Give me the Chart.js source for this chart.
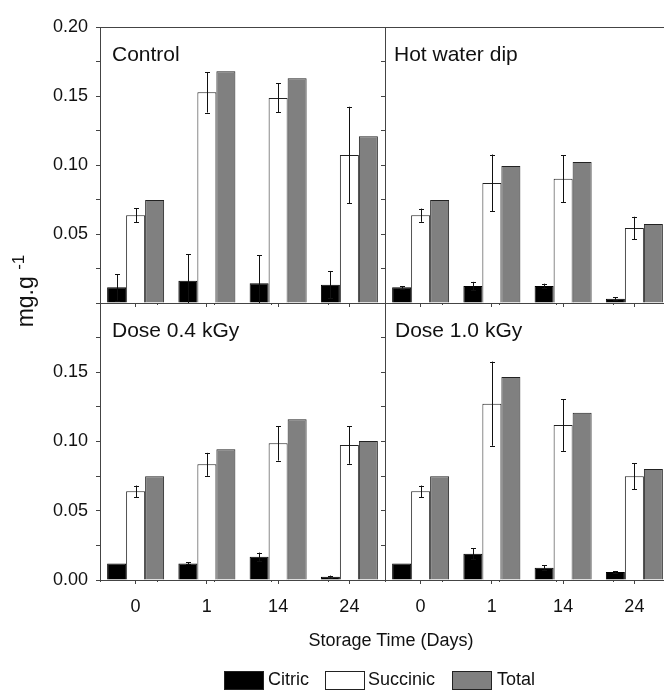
<!DOCTYPE html>
<html>
<head>
<meta charset="utf-8">
<script src="https://cdn.jsdelivr.net/npm/chart.js@4"></script>
<style>
html,body{margin:0;padding:0;background:#fff;}
#wrap{position:relative;width:664px;height:690px;overflow:hidden;background:#fff;font-family:"Liberation Sans",Arial,sans-serif;color:#111;}
#wrap canvas{position:absolute;left:0;top:0;}
.panel{position:absolute;white-space:nowrap;font-size:21px;line-height:21px;}
.txt{position:absolute;white-space:nowrap;font-size:18px;line-height:18px;}
.box{position:absolute;width:38px;height:17px;border:1px solid #222;}
#ytitle{position:absolute;left:-75px;top:276px;width:200px;height:30px;line-height:30px;font-size:23px;text-align:center;transform:rotate(-90deg);white-space:nowrap;}
</style>
</head>
<body>
<div id="wrap">
  <canvas id="c0" width="670" height="690" style="width:670px;height:690px"></canvas>
  <canvas id="c1" width="670" height="690" style="width:670px;height:690px"></canvas>
  <canvas id="c2" width="670" height="690" style="width:670px;height:690px"></canvas>
  <canvas id="c3" width="670" height="690" style="width:670px;height:690px"></canvas>
  <div class="panel" id="p0" style="left:112px;top:43px"></div>
  <div class="panel" id="p1" style="left:394px;top:43px"></div>
  <div class="panel" id="p2" style="left:112px;top:319px"></div>
  <div class="panel" id="p3" style="left:395px;top:319px"></div>
  <div id="ytitle">mg.g <span style="font-size:17px;position:relative;top:-9px">-1</span></div>
  <div class="txt" id="xtitle" style="left:291px;width:200px;text-align:center;top:631px"></div>
  <div class="box" style="left:224px;top:671px;background:#000"></div>
  <div class="txt" id="l0" style="left:268px;top:670px"></div>
  <div class="box" style="left:325px;top:671px;background:#fff"></div>
  <div class="txt" id="l1" style="left:368px;top:670px"></div>
  <div class="box" style="left:452px;top:671px;background:#808080"></div>
  <div class="txt" id="l2" style="left:497px;top:670px"></div>
</div>
<script>
// ---- data ----
const categories = ['0', '1', '14', '24'];
const seriesNames = ['Citric', 'Succinic', 'Total'];
const panelTitles = ['Control', 'Hot water dip', 'Dose 0.4 kGy', 'Dose 1.0 kGy'];
const xAxisTitle = 'Storage Time (Days)';

const controlCitric      = [0.0114, 0.0162, 0.0143, 0.0133];
const controlCitricErr   = [0.0096, 0.0193, 0.0203, 0.0099];
const controlSuccinic    = [0.0636, 0.1527, 0.1486, 0.1072];
const controlSuccinicErr = [0.0050, 0.0147, 0.0105, 0.0350];
const controlTotal       = [0.0746, 0.1680, 0.1628, 0.1208];

const hotCitric      = [0.0114, 0.0123, 0.0123, 0.0031];
const hotCitricErr   = [0.0009, 0.0030, 0.0017, 0.0010];
const hotSuccinic    = [0.0636, 0.0870, 0.0901, 0.0543];
const hotSuccinicErr = [0.0048, 0.0206, 0.0170, 0.0082];
const hotTotal       = [0.0746, 0.0993, 0.1022, 0.0572];

const dose04Citric      = [0.0120, 0.0120, 0.0168, 0.0024];
const dose04CitricErr   = [0, 0.0007, 0.0030, 0.0008];
const dose04Succinic    = [0.0640, 0.0835, 0.0987, 0.0975];
const dose04SuccinicErr = [0.0042, 0.0083, 0.0125, 0.0136];
const dose04Total       = [0.0749, 0.0944, 0.1160, 0.1004];

const dose10Citric      = [0.0120, 0.0190, 0.0089, 0.0058];
const dose10CitricErr   = [0, 0.0040, 0.0017, 0.0007];
const dose10Succinic    = [0.0640, 0.1273, 0.1119, 0.0749];
const dose10SuccinicErr = [0.0042, 0.0304, 0.0187, 0.0094];
const dose10Total       = [0.0749, 0.1466, 0.1208, 0.0801];

const yMin = 0, yMax = 0.2, yStep = 0.025;

// ---- text ----
panelTitles.forEach((t, i) => document.getElementById('p' + i).textContent = t);
seriesNames.forEach((t, i) => document.getElementById('l' + i).textContent = t);
document.getElementById('xtitle').textContent = xAxisTitle;

// ---- charts ----
const FONT = '"Liberation Sans", Arial, sans-serif';
const AXIS = '#444';
const CW = 670, CH = 690;
const colEdges = [[100, 385], [385, 670]];
const rowEdges = [[27, 303], [303, 580]];

const errorBars = {
  id: 'errorBars',
  afterDatasetsDraw(chart, args, opts) {
    const ctx = chart.ctx, ys = chart.scales.y;
    (opts.errors || []).forEach((errs, di) => {
      if (!errs) return;
      const ds = chart.data.datasets[di];
      const meta = chart.getDatasetMeta(di);
      meta.data.forEach((bar, i) => {
        const e = errs[i];
        if (!e) return;
        const v = ds.data[i];
        const hi = ys.getPixelForValue(v + e);
        const lo = ys.getPixelForValue(Math.max(0, v - e));
        const x = Math.round(bar.x) + 0.5;
        ctx.save();
        ctx.strokeStyle = '#111';
        ctx.lineWidth = 1;
        ctx.beginPath();
        ctx.moveTo(x, hi); ctx.lineTo(x, lo);
        ctx.moveTo(x - 2.5, Math.round(hi) + 0.5); ctx.lineTo(x + 2.5, Math.round(hi) + 0.5);
        if (v - e > 0) { ctx.moveTo(x - 2.5, Math.round(lo) + 0.5); ctx.lineTo(x + 2.5, Math.round(lo) + 0.5); }
        ctx.stroke();
        ctx.restore();
      });
    });
  }
};

function makePanel(id, row, col, citric, citricErr, succinic, succinicErr, total) {
  const yW = col === 0 ? 100 : 20;
  const xH = row === 0 ? 20 : 40;
  const padding = {
    left: colEdges[col][0] - yW,
    right: CW - colEdges[col][1],
    top: rowEdges[row][0],
    bottom: CH - rowEdges[row][1] - xH
  };
  const scales = {
    x: {
      type: 'category', position: 'bottom', offset: true,
      grid: { display: true, offset: false, drawOnChartArea: false, drawTicks: true, tickLength: 4, color: AXIS },
      border: { display: true, color: AXIS, width: 1 },
      ticks: { display: row === 1, autoSkip: false, maxRotation: 0, padding: 12, color: '#111', font: { family: FONT, size: 18 } },
      afterFit: s => { s.height = xH; }
    },
    xm: {
      type: 'linear', min: 0, max: categories.length, position: { y: 0 },
      ticks: { display: false, stepSize: 1 },
      grid: { display: true, drawOnChartArea: false, drawTicks: true, tickLength: 2, color: AXIS },
      border: { display: false },
      afterFit: s => { s.height = 0; }
    },
    y: {
      type: 'linear', position: 'left', min: yMin, max: yMax,
      ticks: {
        display: col === 0, stepSize: yStep, padding: 8, color: '#111', font: { family: FONT, size: 18 },
        callback: v => {
          const k = Math.round(v / yStep);
          if (k % 2 !== 0) return '';
          if (row === 0 && k === 0) return '';
          if (row === 1 && Math.abs(v - yMax) < 1e-9) return '';
          return v.toFixed(2);
        }
      },
      grid: { display: true, drawOnChartArea: false, drawTicks: true, tickLength: 4, color: AXIS },
      border: { display: true, color: AXIS, width: 1 },
      afterFit: s => { s.width = yW; }
    }
  };
  if (row === 0) {
    scales.xt = {
      type: 'category', position: 'top',
      grid: { display: false, drawTicks: false },
      ticks: { display: false },
      border: { display: true, color: AXIS, width: 1 },
      afterFit: s => { s.height = 0; }
    };
  }
  return new Chart(document.getElementById(id), {
    type: 'bar',
    data: {
      labels: categories,
      datasets: [
        { label: seriesNames[0], data: citric, backgroundColor: '#000', borderColor: '#000', borderWidth: 1, xAxisID: 'x', yAxisID: 'y' },
        { label: seriesNames[1], data: succinic, backgroundColor: '#fff', borderColor: '#222', borderWidth: 1, xAxisID: 'x', yAxisID: 'y' },
        { label: seriesNames[2], data: total, backgroundColor: '#808080', borderColor: '#222', borderWidth: 1, xAxisID: 'x', yAxisID: 'y' }
      ]
    },
    options: {
      responsive: false, animation: false, devicePixelRatio: 1,
      categoryPercentage: 0.8, barPercentage: 1.0,
      layout: { padding },
      scales,
      plugins: {
        legend: { display: false }, tooltip: { enabled: false }, title: { display: false },
        errorBars: { errors: [citricErr, succinicErr, null] }
      },
      events: []
    },
    plugins: [errorBars]
  });
}

makePanel('c0', 0, 0, controlCitric, controlCitricErr, controlSuccinic, controlSuccinicErr, controlTotal);
makePanel('c1', 0, 1, hotCitric, hotCitricErr, hotSuccinic, hotSuccinicErr, hotTotal);
makePanel('c2', 1, 0, dose04Citric, dose04CitricErr, dose04Succinic, dose04SuccinicErr, dose04Total);
makePanel('c3', 1, 1, dose10Citric, dose10CitricErr, dose10Succinic, dose10SuccinicErr, dose10Total);
</script>
</body>
</html>
